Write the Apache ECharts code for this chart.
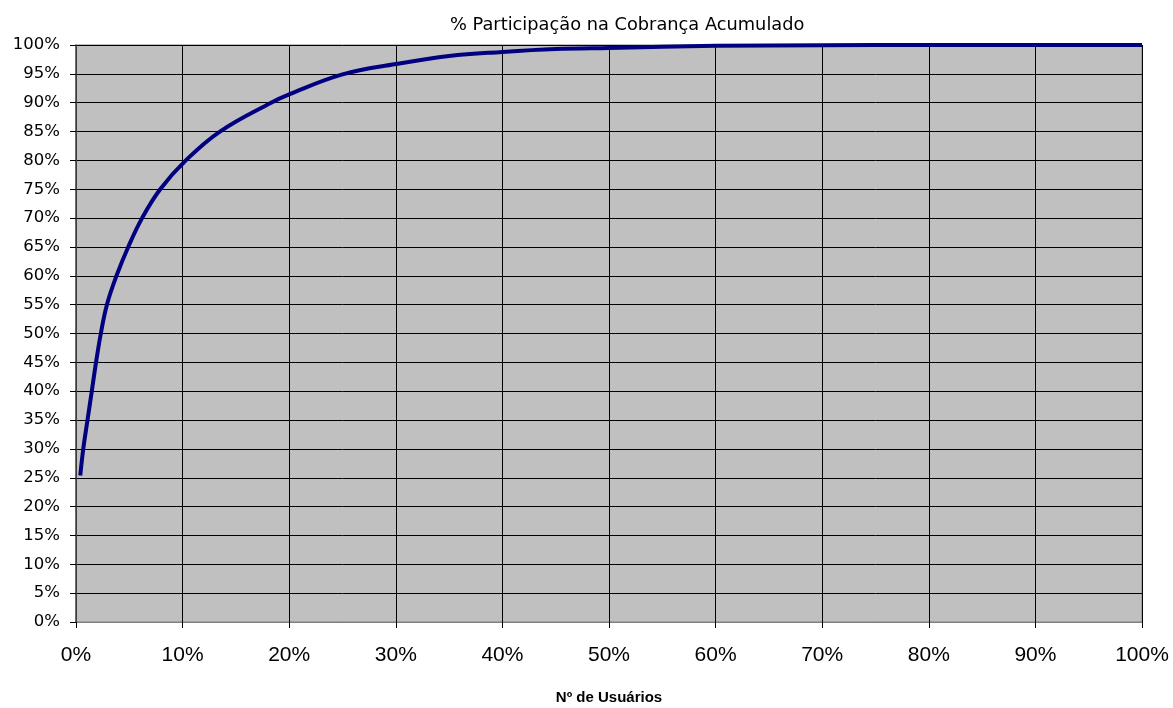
<!DOCTYPE html>
<html>
<head>
<meta charset="utf-8">
<title>% Participação na Cobrança Acumulado</title>
<script src="https://cdn.jsdelivr.net/npm/echarts@6/dist/echarts.min.js"></script>
<style>
  html, body { margin: 0; padding: 0; background: #ffffff; overflow: hidden; }
  #chart { width: 1173px; height: 708px; }
</style>
</head>
<body>
<div id="chart"></div>
<script>
// Cumulative share of users (%) and the matching cumulative share of billing (%)
const usuariosPct = [0.4, 0.68, 1.08, 1.48, 1.88, 2.33, 2.9, 3.8, 4.9, 6.2, 7.9, 10.3, 13.5, 18.3, 20, 25, 30, 35, 40, 45, 50, 60, 70, 80, 90, 100];
const cobrancaPct = [25.4, 30, 35, 40, 45, 50, 55, 60, 65, 70, 75, 80, 85, 90, 91.45, 94.9, 96.7, 98.1, 98.8, 99.3, 99.5, 99.85, 99.95, 100, 100, 100];

const titulo = '% Participação na Cobrança Acumulado';
const nomeEixoX = 'Nº de Usuários';

const pontos = usuariosPct.map((x, i) => [x, cobrancaPct[i]]);
const arial = '"Liberation Sans", Arial, sans-serif';
const largo = '"DejaVu Sans", Verdana, sans-serif';

const chart = echarts.init(document.getElementById('chart'), null, { renderer: 'canvas' });
chart.setOption({
  animation: false,
  backgroundColor: '#ffffff',
  title: {
    text: titulo,
    left: 445,
    top: 11,
    textStyle: { fontFamily: largo, fontSize: 17.8, fontWeight: 'normal', color: '#000000' }
  },
  grid: {
    left: 76, right: 31, top: 45, bottom: 86,
    outerBoundsMode: 'none',
    containLabel: false,
    show: true,
    backgroundColor: '#c0c0c0',
    borderColor: '#808080',
    borderWidth: 1
  },
  xAxis: {
    type: 'value',
    min: 0, max: 100, interval: 10,
    name: nomeEixoX,
    nameLocation: 'middle',
    nameGap: 68,
    nameTextStyle: { fontFamily: arial, fontSize: 15, fontWeight: 'bold', color: '#000000' },
    axisLine: { show: true, lineStyle: { color: '#808080', width: 1 } },
    axisTick: { show: true, length: 6, lineStyle: { color: '#000000' } },
    axisLabel: { margin: 23, fontFamily: arial, fontSize: 21, color: '#000000', formatter: v => v + '%' },
    splitLine: { show: true, lineStyle: { color: '#000000', width: 1 } }
  },
  yAxis: {
    type: 'value',
    min: 0, max: 100, interval: 5,
    axisLine: { show: true, lineStyle: { color: '#505050', width: 1.5 } },
    axisTick: { show: true, length: 6, lineStyle: { color: '#000000' } },
    axisLabel: { margin: 16, fontFamily: largo, fontSize: 16.5, color: '#000000', formatter: v => v + '%' },
    splitLine: { show: true, lineStyle: { color: '#000000', width: 1 } }
  },
  series: [{
    type: 'line',
    data: pontos,
    smooth: 0.4,
    showSymbol: false,
    lineStyle: { color: '#000080', width: 4 },
    clip: false
  }]
});
</script>
</body>
</html>
